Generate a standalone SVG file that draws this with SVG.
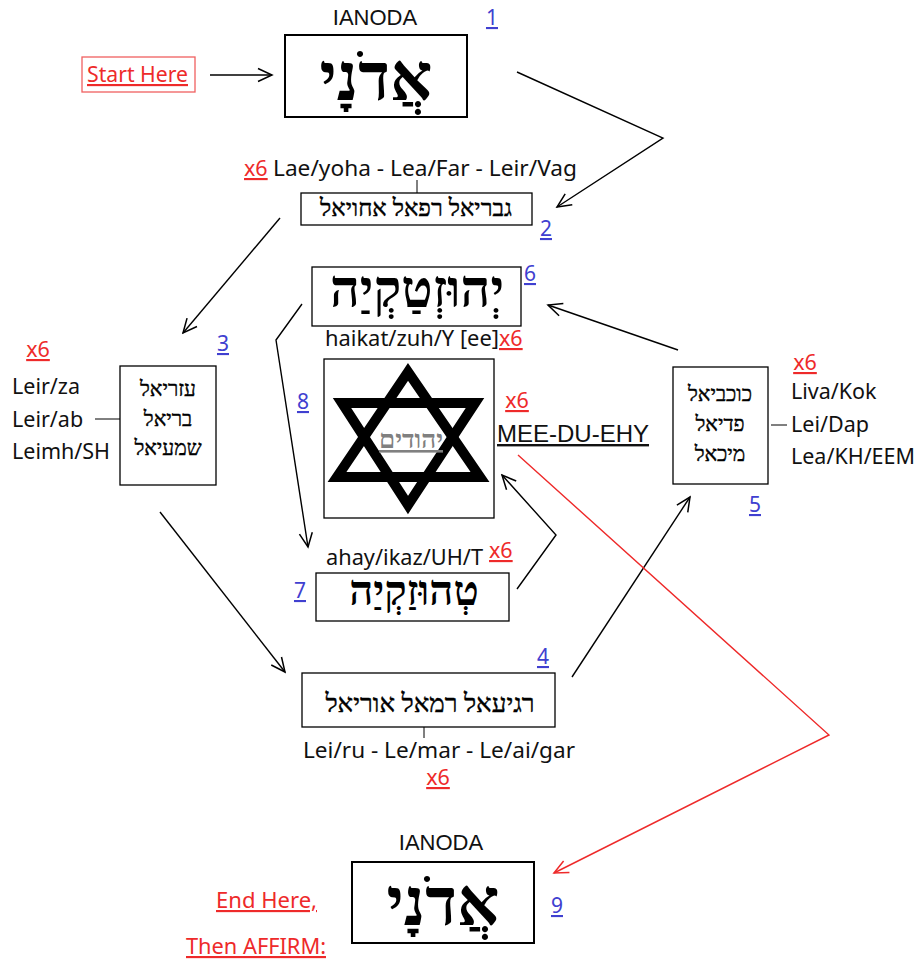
<svg xmlns="http://www.w3.org/2000/svg" width="919" height="961" viewBox="0 0 919 961">
<defs>
<marker id="ah" viewBox="-15 -8 17 16" refX="0" refY="0" markerWidth="17" markerHeight="16" orient="auto" markerUnits="userSpaceOnUse"><path d="M-14,-6.5 L0,0 L-14,6.5" fill="none" stroke="#000" stroke-width="1.5"/></marker>
<marker id="ahr" viewBox="-15 -8 17 16" refX="0" refY="0" markerWidth="17" markerHeight="16" orient="auto" markerUnits="userSpaceOnUse"><path d="M-14,-6.5 L0,0 L-14,6.5" fill="none" stroke="#ee2a2a" stroke-width="1.5"/></marker>
</defs>
<style>
.box{fill:#fff;stroke:#000;stroke-width:1.3}
.box2{fill:#fff;stroke:#000;stroke-width:2}
.t{font-family:"Noto Sans","Open Sans",sans-serif;font-size:21.5px;fill:#111}
.a{font-family:"Liberation Sans",Arial,sans-serif;fill:#111}
.heb{font-family:"Liberation Serif","DejaVu Serif","DejaVu Sans",serif;fill:#000;text-anchor:middle}
.hs{stroke:#000;stroke-width:0.4}
.hb{font-weight:bold}
.red{fill:#ee2a2a;text-decoration:underline}
.num{font-family:"Noto Sans","Open Sans",sans-serif;font-size:21px;fill:#4040d0;text-decoration:underline}
.c{fill:none;stroke:#000;stroke-width:1.4}
.cr{fill:none;stroke:#ee2a2a;stroke-width:1.4}
.ln{stroke:#000;stroke-width:1}
</style>
<rect width="919" height="961" fill="#fff"/>

<g id="start">
<rect x="82" y="57" width="113" height="35" fill="#fff" stroke="#f06060" stroke-width="1.3"/>
<text x="87" y="82" class="t red" textLength="101" lengthAdjust="spacingAndGlyphs">Start Here</text>
</g>

<g id="node1">
<text x="375" y="25" class="a" font-size="22" text-anchor="middle">IANODA</text>
<text x="492" y="25" class="num" text-anchor="middle">1</text>
<rect x="285" y="35" width="182" height="82" class="box2"/>
<text x="376" y="100" class="heb hb" font-size="66">אֲדֹנָי</text>
</g>

<g id="node2">
<text x="244" y="176" class="t red">x6</text>
<text x="273" y="176" class="t" textLength="304" lengthAdjust="spacingAndGlyphs">Lae/yoha - Lea/Far - Leir/Vag</text>
<line x1="417" y1="180" x2="417" y2="193" class="ln"/>
<rect x="301" y="193" width="231" height="32" class="box"/>
<text x="416" y="216" class="heb hs" font-size="24">גבריאל רפאל אחויאל</text>
<text x="546" y="236" class="num" text-anchor="middle">2</text>
</g>

<g id="node3">
<text x="38" y="357" class="t red" text-anchor="middle">x6</text>
<text x="12" y="394" class="t">Leir/za</text>
<text x="12" y="427" class="t">Leir/ab</text>
<text x="12" y="459" class="t" textLength="98" lengthAdjust="spacingAndGlyphs">Leimh/SH</text>
<line x1="95" y1="419" x2="120" y2="419" class="ln"/>
<rect x="120" y="366" width="96" height="119" class="box"/>
<text x="168" y="396" class="heb hs" font-size="21">עזריאל</text>
<text x="168" y="426" class="heb hs" font-size="21">בריאל</text>
<text x="168" y="455" class="heb hs" font-size="21">שמעיאל</text>
<text x="223" y="351" class="num" text-anchor="middle">3</text>
</g>

<g id="node6">
<rect x="312" y="267" width="209" height="59" class="box"/>
<text x="417" y="307" class="heb hb" font-size="52">יְהוּזְטַקְיַה</text>
<text x="530" y="281" class="num" text-anchor="middle">6</text>
<text x="325" y="346" class="t" textLength="174" lengthAdjust="spacingAndGlyphs">haikat/zuh/Y [ee]</text>
<text x="499" y="346" class="t red">x6</text>
</g>

<g id="node8">
<rect x="324" y="359" width="170" height="159" fill="#fff" stroke="#000" stroke-width="1.3"/>
<polygon points="408,372 337,477 480,477" fill="none" stroke="#000" stroke-width="10"/>
<polygon points="342,403 475,403 408,505" fill="none" stroke="#000" stroke-width="10"/>
<text x="411" y="448" class="heb hb" font-size="26" style="fill:#808080;text-decoration:underline">יהודים</text>
<text x="303" y="409" class="num" text-anchor="middle">8</text>
<text x="517" y="408" class="t red" text-anchor="middle">x6</text>
<text x="497" y="442" class="a" font-size="24" style="text-decoration:underline">MEE-DU-EHY</text>
</g>

<g id="node5">
<rect x="673" y="367" width="95" height="117" class="box"/>
<text x="720" y="401" class="heb hs" font-size="21">כוכביאל</text>
<text x="720" y="431" class="heb hs" font-size="21">פדיאל</text>
<text x="720" y="461" class="heb hs" font-size="21">מיכאל</text>
<line x1="771" y1="425" x2="787" y2="425" class="ln"/>
<text x="805" y="370" class="t red" text-anchor="middle">x6</text>
<text x="791" y="399" class="t">Liva/Kok</text>
<text x="791" y="432" class="t">Lei/Dap</text>
<text x="791" y="464" class="t" textLength="124" lengthAdjust="spacingAndGlyphs">Lea/KH/EEM</text>
<text x="755" y="512" class="num" text-anchor="middle">5</text>
</g>

<g id="node7">
<text x="326" y="565" class="t" textLength="157" lengthAdjust="spacingAndGlyphs">ahay/ikaz/UH/T</text>
<text x="489" y="558" class="t red">x6</text>
<rect x="316" y="573" width="193" height="48" class="box"/>
<text x="414" y="605" class="heb hb" font-size="42">טְהוּזַקְיַה</text>
<text x="300" y="598" class="num" text-anchor="middle">7</text>
</g>

<g id="node4">
<text x="543" y="664" class="num" text-anchor="middle">4</text>
<rect x="302" y="673" width="253" height="54" class="box"/>
<text x="430" y="712" class="heb hs" font-size="26">רגיעאל רמאל אוריאל</text>
<line x1="424" y1="727" x2="424" y2="738" class="ln"/>
<text x="303" y="758" class="t" textLength="272" lengthAdjust="spacingAndGlyphs">Lei/ru - Le/mar - Le/ai/gar</text>
<text x="438" y="785" class="t red" text-anchor="middle">x6</text>
</g>

<g id="node9">
<text x="441" y="850" class="a" font-size="22" text-anchor="middle">IANODA</text>
<rect x="352" y="862" width="182" height="81" class="box2"/>
<text x="443" y="925" class="heb hb" font-size="66">אֲדֹנָי</text>
<text x="557" y="913" class="num" text-anchor="middle">9</text>
<text x="216" y="908" class="t red" textLength="101" lengthAdjust="spacingAndGlyphs">End Here,</text>
<text x="186" y="954" class="t red" textLength="140" lengthAdjust="spacingAndGlyphs">Then AFFIRM:</text>
</g>

<g id="connectors">
<line x1="210" y1="75" x2="272" y2="75" class="c" marker-end="url(#ah)"/>
<polyline points="517,72 663,138 557,207" class="c" marker-end="url(#ah)"/>
<line x1="280" y1="218" x2="183" y2="333" class="c" marker-end="url(#ah)"/>
<line x1="160" y1="512" x2="285" y2="672" class="c" marker-end="url(#ah)"/>
<line x1="572" y1="677" x2="690" y2="497" class="c" marker-end="url(#ah)"/>
<line x1="678" y1="350" x2="548" y2="305" class="c" marker-end="url(#ah)"/>
<polyline points="302,304 276,340 308,547" class="c" marker-end="url(#ah)"/>
<polyline points="517,589 556,535 502,475" class="c" marker-end="url(#ah)"/>
<polyline points="518,455 829,735 554,873" class="cr" marker-end="url(#ahr)"/>
</g>
</svg>
